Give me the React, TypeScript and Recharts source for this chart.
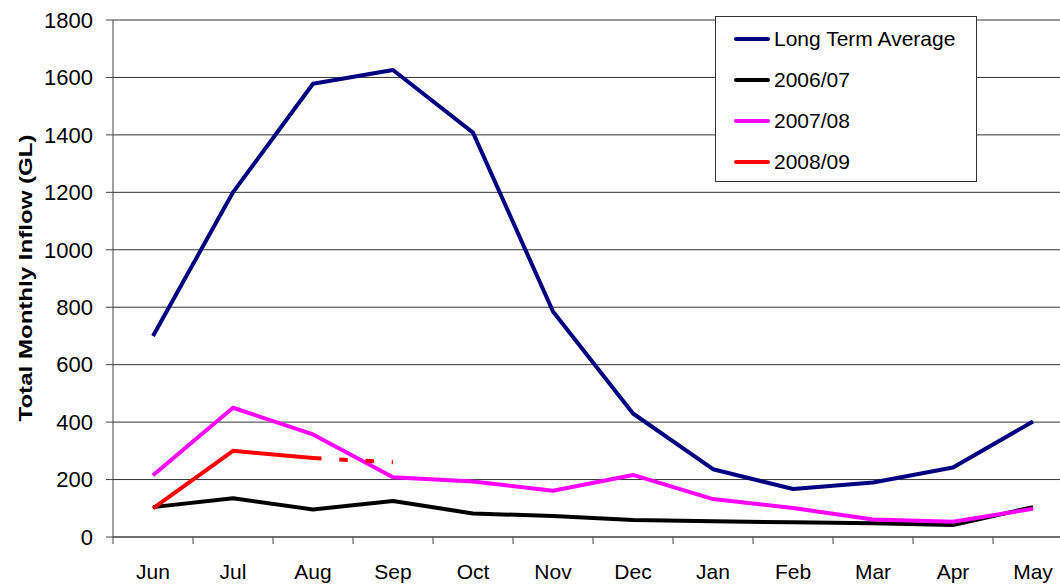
import React from "react";
import { LineChart, Line, XAxis, YAxis, CartesianGrid } from "recharts";

const months = ["Jun", "Jul", "Aug", "Sep", "Oct", "Nov", "Dec", "Jan", "Feb", "Mar", "Apr", "May"];
const longTermAverage = [700, 1200, 1578, 1626, 1408, 785, 430, 236, 167, 190, 242, 402];
const inflow0607 = [104, 135, 96, 125, 82, 73, 59, 55, 51, 48, 42, 104];
const inflow0708 = [215, 450, 357, 208, 193, 161, 216, 132, 101, 61, 53, 98];
const inflow0809 = [100, 300, 275, null, null, null, null, null, null, null, null, null];
const inflow0809Forecast = [null, null, 275, 260, null, null, null, null, null, null, null, null];
const yTicks = [0, 200, 400, 600, 800, 1000, 1200, 1400, 1600, 1800];

const series = [
  { key: "lta", name: "Long Term Average", color: "#000080", values: longTermAverage },
  { key: "y0607", name: "2006/07", color: "#000000", values: inflow0607 },
  { key: "y0708", name: "2007/08", color: "#FF00FF", values: inflow0708 },
  { key: "y0809", name: "2008/09", color: "#FF0000", values: inflow0809 },
];

// numeric x so tick marks can sit on month boundaries, points in the middle
const data = months.map((m, i) => {
  const row: Record<string, any> = { month: m, x: i + 0.5, y0809f: inflow0809Forecast[i] };
  series.forEach((s) => (row[s.key] = s.values[i]));
  return row;
});

const boundaryTicks = months.map((_, i) => i).concat([months.length]);
const labelTicks = months.map((_, i) => i + 0.5);

const FONT = "Arial, 'Liberation Sans', sans-serif";

function YLabel() {
  return (
    <text
      x={0}
      y={0}
      transform="translate(32, 278) rotate(-90)"
      textAnchor="middle"
      fontFamily={FONT}
      fontWeight="bold"
      fontSize={18}
      fill="#000"
      textLength={287}
      lengthAdjust="spacingAndGlyphs"
    >
      Total Monthly Inflow (GL)
    </text>
  );
}

export default function App() {
  return (
    <div
      style={{
        position: "absolute",
        left: 0,
        top: 0,
        width: 1060,
        height: 585,
        overflow: "hidden",
        background: "#fff",
        fontFamily: FONT,
      }}
    >
      <LineChart width={1080} height={585} data={data} margin={{ top: 20, right: 7, left: 0, bottom: 0 }}>
        <CartesianGrid vertical={false} xAxisId="bounds" stroke="#333" strokeWidth={1} />
        <XAxis
          xAxisId="bounds"
          type="number"
          dataKey="x"
          domain={[0, months.length]}
          ticks={boundaryTicks}
          tickFormatter={() => ""}
          tickSize={7}
          height={7}
          stroke="#444"
          interval={0}
        />
        <XAxis
          xAxisId="labels"
          type="number"
          dataKey="x"
          domain={[0, months.length]}
          ticks={labelTicks}
          tickFormatter={(v: number) => months[Math.floor(v)]}
          axisLine={false}
          tickLine={false}
          tickSize={0}
          tickMargin={20}
          height={41}
          interval={0}
          tick={{ fill: "#000", fontSize: 21, fontFamily: FONT }}
        />
        <YAxis
          domain={[0, 1800]}
          ticks={yTicks}
          width={113}
          tickSize={7}
          tickMargin={13}
          stroke="#444"
          interval={0}
          tick={{ fill: "#000", fontSize: 22, fontFamily: FONT }}
          label={<YLabel />}
        />
        {series.map((s) => (
          <Line
            key={s.key}
            xAxisId="bounds"
            dataKey={s.key}
            name={s.name}
            stroke={s.color}
            strokeWidth={4}
            dot={false}
            isAnimationActive={false}
            connectNulls={false}
            strokeLinejoin="round"
          />
        ))}
        <Line
          xAxisId="bounds"
          dataKey="y0809f"
          stroke="#FF0000"
          strokeWidth={4}
          strokeDasharray="8.5 17.8"
          dot={false}
          isAnimationActive={false}
          legendType="none"
        />
      </LineChart>
      <div
        style={{
          position: "absolute",
          left: 715,
          top: 16,
          width: 260,
          height: 164,
          border: "1px solid #333",
          background: "#fff",
          boxSizing: "content-box",
        }}
      >
        {series.map((s, i) => (
          <div
            key={s.key}
            style={{
              position: "absolute",
              left: 18,
              top: 22 + i * 41 - 13,
              height: 26,
              display: "flex",
              alignItems: "center",
              fontSize: 21,
              color: "#000",
              whiteSpace: "nowrap",
            }}
          >
            <span
              style={{
                display: "inline-block",
                width: 36,
                height: 4,
                borderRadius: 2,
                background: s.color,
                marginRight: 4,
              }}
            />
            {s.name}
          </div>
        ))}
      </div>
    </div>
  );
}
